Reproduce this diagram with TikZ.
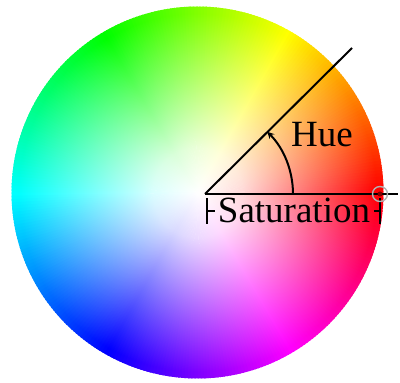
\documentclass[tikz,border=0pt]{standalone}
\usepackage{fontspec}
\setmainfont{Liberation Serif}
\usetikzlibrary{arrows, calc, fadings}
\pgfdeclareradialshading{satshade}{\pgfpointorigin}{color(0bp)=(white); color(6bp)=(white!85!black); color(24bp)=(black); color(50bp)=(black)}
\pgfdeclarefading{satfade}{\pgfuseshading{satshade}}
\tikzset{
  ray/.style={line width=2pt},
  harc/.style={->, >=stealth, line width=2pt},
  wlab/.style={font=\fontsize{37}{40}\selectfont, inner sep=0pt, anchor=base},
  tickm/.style={line width=2pt},
  mrk/.style={circle, draw=gray!60, line width=1.4pt, minimum size=15pt, inner sep=0pt}
}

\begin{document}
\begin{tikzpicture}[x=1pt, y=1pt]
		\useasboundingbox (0,0) rectangle (400,383);
		\coordinate (C) at (197.5,190.5);
		% hue wedges, then white toward the middle
		\foreach \a in {0,...,359} {
			\definecolor{hc}{Hsb}{\a,1,1}
			\fill[hc] (C) -- ++(\a:186) arc[start angle=\a, end angle=\a+1.5, radius=186] -- cycle;
		}
		\fill[white, path fading=satfade, fit fading=true] (C) circle (186);
		\coordinate (O) at (205,189);
		\coordinate (hend) at (398,189);
		\coordinate (dtip) at (352,335);
		\coordinate (a0) at ($(O)+(88,0)$);
		\draw[ray] (O) -- (hend);
		\draw[ray] (O) -- (dtip);
		\draw[harc] (a0) arc[start angle=0, end angle=45, radius=88];
		\node[wlab] (hue) at (322,236) {Hue};
		\node[wlab] (sat) at (294,160) {Saturation};
		\coordinate (sl) at (207,172);
		\coordinate (sr) at (380,172);
		\draw[tickm] ($(sl)+(0,13)$) -- ($(sl)+(0,-13)$);
		\draw[tickm] (sl) -- ++(8,0);
		\draw[tickm] ($(sr)+(0,13)$) -- ($(sr)+(0,-13)$);
		\draw[tickm] (sr) -- ++(-6,0);
		\node[mrk] (mk) at (380,189) {};
		\fill[red!50!black] (mk) circle (2.5);
	\end{tikzpicture}
\end{document}
